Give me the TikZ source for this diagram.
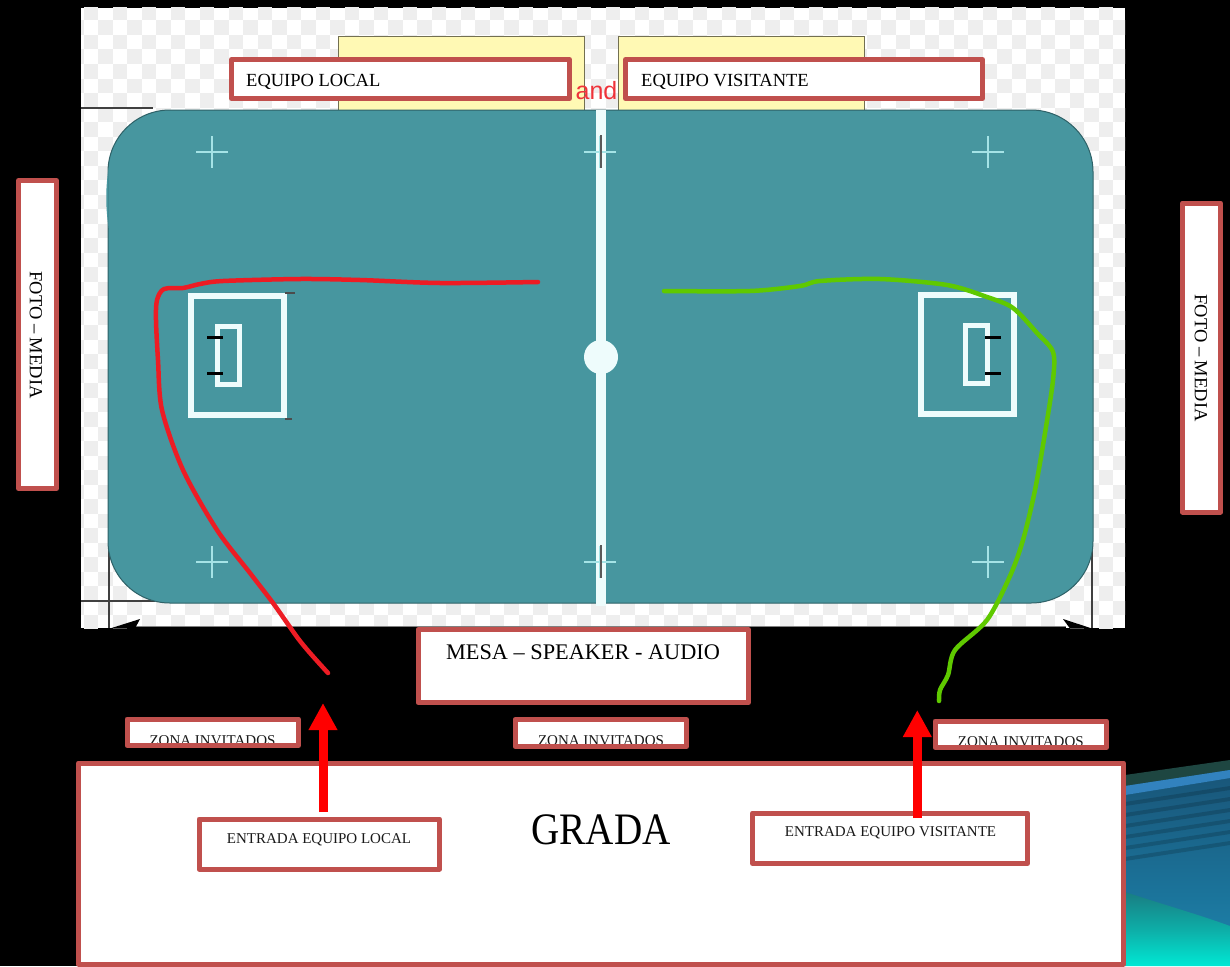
\documentclass[tikz,border=0pt]{standalone}
\usepackage{fontspec}
\usepackage{tikz}
\usetikzlibrary{arrows.meta}
\setmainfont{Liberation Serif}
\newfontfamily\andfont{Liberation Sans}
\newfontfamily\gradafont[FakeStretch=0.87]{Liberation Serif}
\definecolor{boxRed}{RGB}{192, 80, 77}
\definecolor{courtTeal}{RGB}{71, 150, 159}
\definecolor{checkGrey}{RGB}{238, 238, 238}
\definecolor{lineWhite}{RGB}{238, 252, 252}
\definecolor{crossBlue}{RGB}{165, 227, 230}
\definecolor{plateYellow}{RGB}{255, 249, 180}
\definecolor{runRed}{RGB}{237, 28, 36}
\definecolor{runGreen}{RGB}{95, 201, 0}
\definecolor{waveDark}{RGB}{30, 70, 65}
\definecolor{waveBand}{RGB}{50, 130, 190}
\definecolor{waveBlueA}{RGB}{25, 85, 120}
\definecolor{waveBlueB}{RGB}{28, 125, 165}
\definecolor{waveTealA}{RGB}{25, 125, 130}
\definecolor{waveTealB}{RGB}{0, 232, 212}

\tikzset{
  infoBox/.style={draw=boxRed, line width=5pt, line join=round, fill=white, outer sep=0pt, inner sep=0pt},
  infoText/.style={anchor=base, inner sep=0pt, text=black, font=\fontsize{18.5}{23}\selectfont},
  smallText/.style={anchor=base, inner sep=0pt, text=black!90, font=\fontsize{15}{18}\selectfont},
  courtLine/.style={draw=lineWhite, line width=5pt},
  entryArrow/.style={draw=red, line width=9pt, -{Triangle[width=27pt,length=27pt]}},
  runLine/.style={line width=4.5pt, line cap=round, line join=round}
}

\begin{document}
\begin{tikzpicture}[x=1pt,y=-1pt]
  \useasboundingbox (0,0) rectangle (1230,966);
  \fill[black] (0,0) rectangle (1230,966);

  % Wave in the corner
  \fill[waveDark] (1125,775) -- (1230,760) -- (1230,772) -- (1125,787) -- cycle;
  \shade[top color=waveBlueA, bottom color=waveBlueB] (1125,786) -- (1230,770) -- (1230,930) -- (1125,895) -- cycle;
  \fill[waveBand] (1125,786) -- (1230,770) -- (1230,778) -- (1125,795) -- cycle;
  \foreach \s in {0,11,...,55}
    \fill[black, opacity=0.16] (1125,802+\s) -- (1230,786+\s) -- (1230,790+\s) -- (1125,806+\s) -- cycle;
  \shade[top color=waveTealA, bottom color=waveTealB, middle color=waveTealA!55!waveTealB] (1125,892) .. controls (1165,905) and (1200,915) .. (1230,926) -- (1230,966) -- (1125,966) -- cycle;

  % Checker behind the court
  \begin{scope}
    \clip (81,8) rectangle (1125,628);
    \fill[white] (81,8) rectangle (1125,628);
    \foreach \i in {0,...,73}
      \foreach \j in {0,...,43} {
        \ifodd\numexpr\i+\j\relax
          \fill[checkGrey] (69+\i*14.5,6+\j*14.5) rectangle ++(14.5,14.5);
        \fi
      }
  \end{scope}
  \fill[black] (135,626.5) rectangle (1066,628.5);
  \draw[black!50, line width=1pt] (135,626) -- (1066,626);

  % Dimension lines
  \draw[black!75, line width=1.2pt] (81,108) -- (153,108);
  \draw[black!75, line width=1.2pt] (81,601) -- (155,601);
  \draw[black!75, line width=1.2pt] (109,531) -- (109,628);
  \draw[black!75, line width=1.2pt] (1092,531) -- (1092,628);
  \fill[black] (110,628.5) -- (140,619) -- (135,628.5) -- cycle;
  \fill[black] (1092,628.5) -- (1063,619) -- (1070,628.5) -- cycle;

  % Name plates
  \draw[fill=plateYellow, draw=black!55!plateYellow, line width=1pt] (338,37) rectangle (584,110);
  \draw[fill=plateYellow, draw=black!55!plateYellow, line width=1pt] (618,37) rectangle (864,110);
  \node[inner sep=0pt, anchor=base, text=runRed!90!white, font=\andfont\fontsize{25}{28}\selectfont] (andword) at (596.5,99) {and};

  % Court
  \draw[fill=courtTeal, draw=courtTeal!65!black, line width=1pt, rounded corners=62pt] (108,110) rectangle (1093,603);
  \fill[courtTeal] (108.5,168) .. controls (105.5,190) and (105.5,205) .. (108.5,228) -- cycle;
  \fill[lineWhite] (596,110) rectangle (606,606);
  \fill[lineWhite] (601,357) circle (17);

  % Corner and centre crosses
  \foreach \x in {212,600,988}
    \foreach \y in {152,562} {
      \draw[crossBlue, line width=1.5pt] (\x-16,\y) -- (\x+16,\y);
      \draw[crossBlue, line width=1.5pt] (\x,\y-16) -- (\x,\y+16);
    }
  \draw[black!65, line width=2pt] (601,135) -- (601,168);
  \draw[black!65, line width=2pt] (601,545) -- (601,578);

  % Goal areas
  \draw[courtLine, line width=6pt] (191,296) rectangle (284,415);
  \draw[courtLine] (217.5,326.5) rectangle (239.5,384.5);
  \draw[courtLine, line width=6pt] (921,295) rectangle (1014,414);
  \draw[courtLine] (965.5,325.5) rectangle (987.5,383.5);
  \foreach \y in {337,373} {
    \draw[black, line width=3pt] (207,\y) -- (223,\y);
    \draw[black, line width=3pt] (985,\y) -- (1001,\y);
  }
  \draw[black!70, line width=1.5pt] (285,293) -- (295,293);
  \draw[black!70, line width=1.5pt] (285,419) -- (292,419);

  % Boxes
  \node[infoBox, minimum width=338, minimum height=39] (local) at (400.5,79) {};
  \node[infoBox, minimum width=357, minimum height=39] (visit) at (804,79) {};
  \node[infoBox, minimum width=38, minimum height=308] (fotoleft) at (37.5,334.5) {};
  \node[infoBox, minimum width=38, minimum height=309] (fotoright) at (1201.5,357.5) {};
  \node[infoBox, minimum width=330.5, minimum height=73] (mesa) at (583.25,666) {};
  \node[infoBox, minimum width=171.5, minimum height=26.5] (zonaA) at (212.75,732.25) {};
  \node[infoBox, minimum width=171.5, minimum height=27] (zonaB) at (600.75,733) {};
  \node[infoBox, minimum width=171.5, minimum height=26.5] (zonaC) at (1020.75,734.25) {};
  \node[infoBox, minimum width=1045, minimum height=201] (grada) at (601,863.5) {};
  \node[infoBox, minimum width=240.5, minimum height=50] (entlocal) at (319.25,844) {};
  \node[infoBox, minimum width=275, minimum height=50.5] (entvisit) at (890,838.25) {};

  % Texts
  \node[infoText, anchor=base west] (localtxt) at (246,86) {EQUIPO LOCAL};
  \node[infoText, anchor=base west] (visittxt) at (641,86) {EQUIPO VISITANTE};
  \node[infoText, anchor=center, rotate=-90] (fotolefttxt) at (36,335) {FOTO – MEDIA};
  \node[infoText, anchor=center, rotate=-90] (fotorighttxt) at (1201,358) {FOTO – MEDIA};
  \node[infoText, font=\fontsize{22.3}{25}\selectfont] (mesatxt) at (583,659.5) {MESA – SPEAKER - AUDIO};
  \node[infoText, font=\gradafont\fontsize{45}{50}\selectfont] (gradatxt) at (601,844) {GRADA};
  \node[smallText] (entlocaltxt) at (319,843) {ENTRADA EQUIPO LOCAL};
  \node[smallText] (entvisittxt) at (890.5,836) {ENTRADA EQUIPO VISITANTE};
  \node[smallText] (zonaAtxt) at (212.5,745) {ZONA INVITADOS};
  \node[smallText] (zonaBtxt) at (601,745) {ZONA INVITADOS};
  \node[smallText] (zonaCtxt) at (1020.8,746) {ZONA INVITADOS};
  % bottom border runs over the text
  \foreach \z in {zonaA,zonaB,zonaC}
    \draw[boxRed, line width=5pt] (\z.south west) -- (\z.south east);

  % Runs of both teams
  \draw[runLine, runRed] plot[smooth, tension=0.5] coordinates {(538,282) (440,283) (360,280) (300,279) (223,281) (200,284) (183,288) (164,289) (157,300) (156,320) (158,360) (162,410) (183,470) (217,530) (250,573) (273,603) (297,637) (310,653) (328,673)};
  \draw[runLine, runGreen] plot[smooth, tension=0.5] coordinates {(664,291) (750,291) (800,286) (820,281) (880,279) (947,285) (987,297) (1013,308) (1037,333) (1053,352) (1053,380) (1045,433) (1035,490) (1023,540) (1010,576) (987,620) (955,650) (948,675) (940,690) (939,701)};

  % Entry arrows
  \coordinate (tiplocal) at (323,703);
  \coordinate (tipvisit) at (917.3,710);
  \draw[entryArrow, shorten <=7pt] (tiplocal |- entlocal.north) -- (tiplocal);
  \draw[entryArrow, shorten <=-5pt] (tipvisit |- entvisit.north) -- (tipvisit);
\end{tikzpicture}
\end{document}
